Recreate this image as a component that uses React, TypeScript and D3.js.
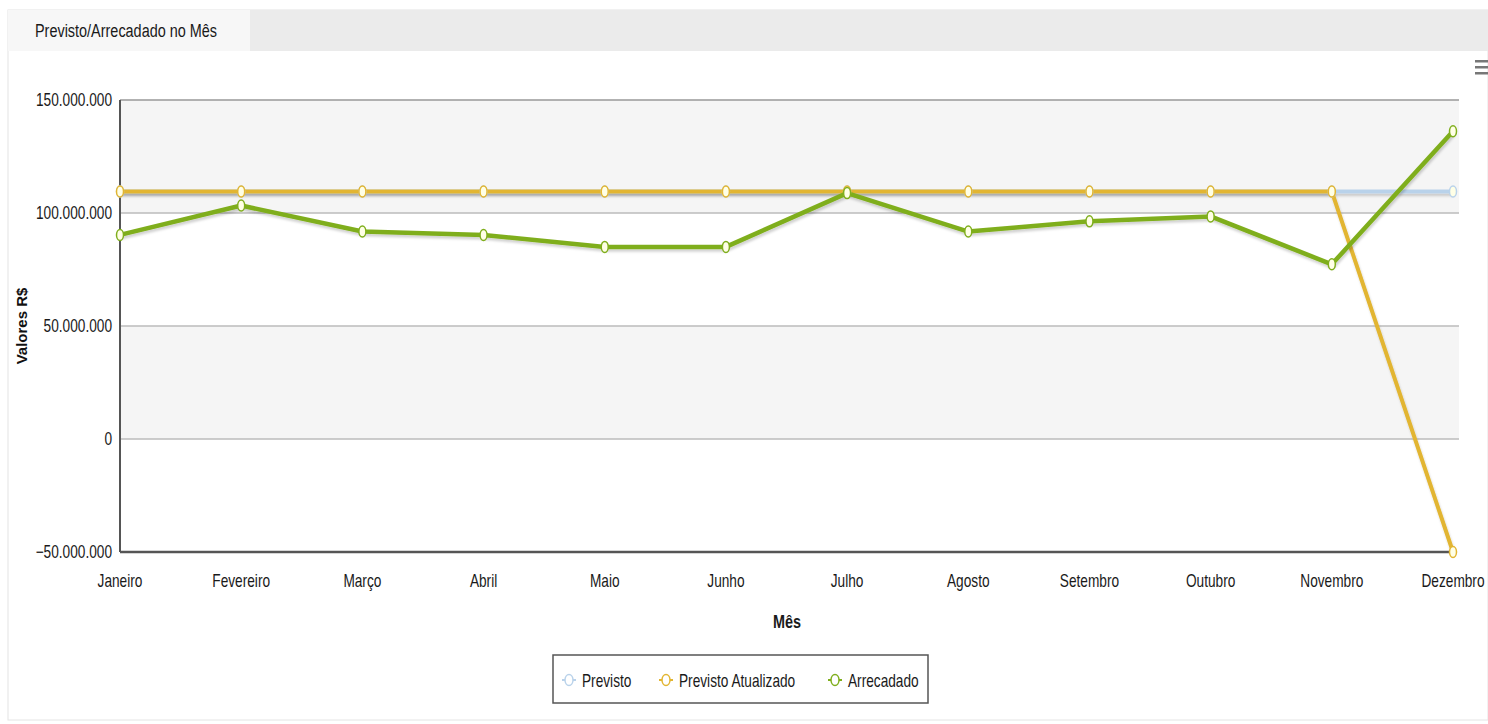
import React, { useEffect, useRef } from 'react';
import * as d3 from 'd3';

const meses = ['Janeiro', 'Fevereiro', 'Março', 'Abril', 'Maio', 'Junho', 'Julho', 'Agosto', 'Setembro', 'Outubro', 'Novembro', 'Dezembro'];
const previsto = [109.5, 109.5, 109.5, 109.5, 109.5, 109.5, 109.5, 109.5, 109.5, 109.5, 109.5, 109.5].map(v => v * 1e6);
const previstoAtualizado = [109.5, 109.5, 109.5, 109.5, 109.5, 109.5, 109.5, 109.5, 109.5, 109.5, 109.5, -50].map(v => v * 1e6);
const arrecadado = [90.3, 103.3, 91.8, 90.3, 85.0, 85.0, 108.8, 91.8, 96.3, 98.5, 77.3, 136.2].map(v => v * 1e6);
const yTicks = [-50e6, 0, 50e6, 100e6, 150e6];

const series = [
  { name: 'Previsto', values: previsto, color: '#b9d2ea', width: 4 },
  { name: 'Previsto Atualizado', values: previstoAtualizado, color: '#e2b531', width: 4 },
  { name: 'Arrecadado', values: arrecadado, color: '#7fae1c', width: 4.5 },
];

const FONT = "'Liberation Sans', Arial, sans-serif";
const SX = 0.76; // the original is horizontally squeezed

const App = () => {
  const svgRef = useRef<SVGSVGElement>(null);

  useEffect(() => {
    document.body.style.margin = '0';
    const W = 1488, H = 724;
    const svg = d3.select(svgRef.current).attr('width', W).attr('height', H);
    svg.selectAll('*').remove();

    // squeezed text helper
    const txt = (g: any, x: number, y: number, s: string, size: number, anchor = 'start', weight = 'normal') =>
      g.append('text').attr('transform', `translate(${x},${y}) scale(${SX},1)`).attr('text-anchor', anchor)
        .attr('font-family', FONT).attr('font-size', size).attr('font-weight', weight).attr('fill', '#1a1a1a').text(s);

    const defs = svg.append('defs');
    const f = defs.append('filter').attr('id', 'shadow').attr('filterUnits', 'userSpaceOnUse')
      .attr('x', 0).attr('y', 0).attr('width', W).attr('height', H);
    f.append('feDropShadow').attr('dx', 1).attr('dy', 2.5).attr('stdDeviation', 1.2).attr('flood-color', '#000').attr('flood-opacity', 0.18);

    // panel + tab bar
    svg.append('rect').attr('x', 8).attr('y', 10).attr('width', W - 8).attr('height', H - 14).attr('fill', '#fff').attr('stroke', '#e4e4e4');
    svg.append('rect').attr('x', 250).attr('y', 10).attr('width', W - 250).attr('height', 41).attr('fill', '#ebebeb');
    svg.append('rect').attr('x', 8).attr('y', 10).attr('width', 242).attr('height', 41).attr('fill', '#f7f7f7');
    txt(svg, 35, 37, 'Previsto/Arrecadado no Mês', 19);

    // menu icon
    [60, 66, 72].forEach(y => svg.append('rect').attr('x', 1475).attr('y', y).attr('width', 13).attr('height', 2.5).attr('fill', '#777'));

    const margin = { left: 120, right: 1453, top: 100, bottom: 552 };
    const x = d3.scalePoint<string>().domain(meses).range([margin.left, margin.right]);
    const y = d3.scaleLinear().domain([-50e6, 150e6]).range([margin.bottom, margin.top]);

    // alternating bands
    for (let i = 0; i < yTicks.length - 1; i++) {
      const lo = yTicks[i], hi = yTicks[i + 1];
      svg.append('rect').attr('x', margin.left).attr('y', y(hi)).attr('width', margin.right - margin.left + 6)
        .attr('height', y(lo) - y(hi)).attr('fill', i % 2 === 1 ? '#f5f5f5' : '#fff');
    }

    // gridlines
    yTicks.slice(1).forEach(t => {
      svg.append('line').attr('x1', margin.left).attr('x2', margin.right + 6).attr('y1', y(t)).attr('y2', y(t))
        .attr('stroke', t === 150e6 ? '#999' : '#bbb').attr('stroke-width', 1.5);
    });

    // axes lines
    svg.append('line').attr('x1', margin.left).attr('x2', margin.left).attr('y1', margin.top).attr('y2', margin.bottom)
      .attr('stroke', '#555').attr('stroke-width', 2);
    svg.append('line').attr('x1', margin.left).attr('x2', margin.right).attr('y1', margin.bottom).attr('y2', margin.bottom)
      .attr('stroke', '#555').attr('stroke-width', 2.5);

    const fmt = (v: number) => d3.format(',')(v).replace(/,/g, '.');
    const yg = svg.append('g');
    yTicks.forEach(t => txt(yg, margin.left - 8, y(t) + 6, fmt(t), 18, 'end'));
    const xg = svg.append('g');
    meses.forEach(m => txt(xg, x(m)!, 587, m, 18, 'middle'));

    svg.append('text').attr('transform', 'translate(27,326) rotate(-90)').attr('text-anchor', 'middle')
      .attr('font-family', FONT).attr('font-weight', 'bold').attr('font-size', 15)
      .attr('fill', '#111').text('Valores R$');
    txt(svg, 787, 628, 'Mês', 19, 'middle', 'bold');

    // lines
    const line = d3.line<number>().x((_, i) => x(meses[i])!).y(d => y(d));
    series.forEach(s => {
      svg.append('path').datum(s.values).attr('d', line).attr('fill', 'none')
        .attr('stroke', s.color).attr('stroke-width', s.width).attr('stroke-linejoin', 'round')
        .attr('filter', 'url(#shadow)');
    });
    series.forEach(s => {
      svg.append('g').selectAll('ellipse').data(s.values).enter().append('ellipse')
        .attr('cx', (_, i) => x(meses[i])!).attr('cy', d => y(d)).attr('rx', 3.5).attr('ry', 5.5)
        .attr('fill', '#ffffe6').attr('stroke', s.color).attr('stroke-width', 1.5);
    });

    // legend
    const lg = svg.append('g');
    lg.append('rect').attr('x', 553).attr('y', 655).attr('width', 375).attr('height', 48)
      .attr('fill', '#fff').attr('stroke', '#555').attr('stroke-width', 1.5);
    const items = [
      { s: series[0], x: 569 },
      { s: series[1], x: 666 },
      { s: series[2], x: 835 },
    ];
    items.forEach(({ s, x: lx }) => {
      lg.append('line').attr('x1', lx - 7).attr('x2', lx + 7).attr('y1', 680).attr('y2', 680)
        .attr('stroke', s.color).attr('stroke-width', 2);
      lg.append('ellipse').attr('cx', lx).attr('cy', 680).attr('rx', 4).attr('ry', 5.5)
        .attr('fill', '#fff').attr('stroke', s.color).attr('stroke-width', 1.5);
      txt(lg, lx + 13, 687, s.name, 18);
    });
  }, []);

  return <svg ref={svgRef} style={{ display: 'block' }}></svg>;
};

export default App;
